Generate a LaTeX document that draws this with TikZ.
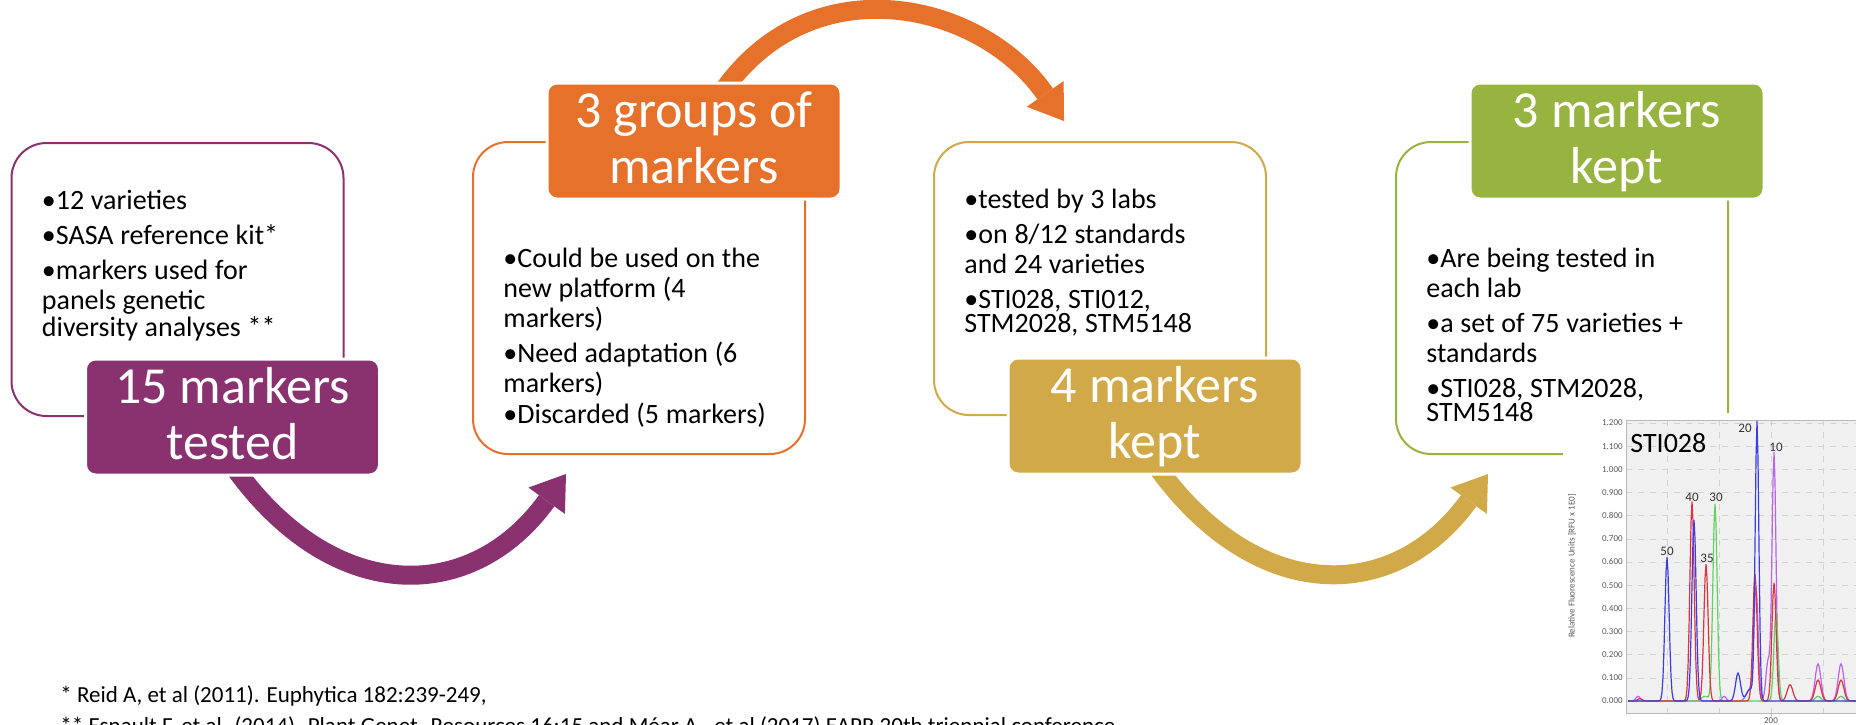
\documentclass[tikz,border=0pt]{standalone}
\usepackage{fontspec}
\setmainfont{Carlito}
\usepackage{tikz}
\usetikzlibrary{arrows.meta}
\usetikzlibrary{backgrounds}
\definecolor{plum}{HTML}{8A3270}
\definecolor{tangerine}{HTML}{E5712B}
\definecolor{ochre}{HTML}{D1A948}
\definecolor{moss}{HTML}{96B43F}
\definecolor{trblue}{RGB}{60,60,225}
\definecolor{trred}{RGB}{222,50,62}
\definecolor{trgreen}{RGB}{95,210,95}
\definecolor{trviolet}{RGB}{185,100,230}
\newcommand{\lstfmt}{\fontsize{14}{15}\selectfont\setlength{\parskip}{2.5pt}}
\newcommand{\bul}[1]{\par\hangindent=7pt\hangafter=1\noindent\hbox to 7pt{\textbullet\hss}#1}
\newcommand{\twoline}[2]{\rule{0pt}{21.5pt}#1\\#2\rule[-7pt]{0pt}{7pt}}

\begin{document}
\begin{tikzpicture}[x=0.5pt,y=-0.5pt,declare function={pk(\p,\m,\h,\s)=\h*exp(-min(((\p-\m)/\s)^2,9));}]
  \tikzstyle{every node}=[inner sep=0pt]
  \tikzstyle{panel}=[draw,line width=1pt,rounded corners=17.5pt,minimum width=166pt]
  \tikzstyle{headbox}=[draw=white,line width=1.5pt,rounded corners=5pt,minimum width=147pt,minimum height=58pt,text=white,align=center,font=\fontsize{26}{28}\selectfont]
  \tikzstyle{bullets}=[anchor=north west,text width=135pt]
  \tikzstyle{bigarrow}=[line width=9.5pt,-{Triangle[width=22.5pt,length=16.5pt,line width=0pt]}]
  \tikzstyle{chartgrid}=[gray!35,dashed,line width=0.3pt]
  \tikzstyle{ticklabel}=[font=\fontsize{4.5}{5}\selectfont,text=gray!70!black]
  \tikzstyle{peaklabel}=[font=\fontsize{6.5}{7}\selectfont,text=black!80]
  \tikzstyle{note}=[anchor=base west,font=\fontsize{11.5}{13}\selectfont]

  \path[use as bounding box] (0,0) rectangle (1856,724);

  \node[panel,draw=plum,minimum height=136.5pt]      (p1) at (177.5,279.5) {};
  \node[panel,draw=tangerine,minimum height=156pt]   (p2) at (639,298)     {};
  \node[panel,draw=ochre,minimum height=136.5pt]     (p3) at (1100,278.5)  {};
  \node[panel,draw=moss,minimum height=156pt]        (p4) at (1562,298)    {};

  \node[headbox,fill=plum,xshift=27.5pt]      (h1) at (p1.south) {\twoline{15 markers}{tested}};
  \node[headbox,fill=tangerine,xshift=27.5pt] (h2) at (p2.north) {\twoline{3 groups of}{markers}};
  \node[headbox,fill=ochre,xshift=27.5pt]     (h3) at (p3.south) {\twoline{4 markers}{kept}};
  \node[headbox,fill=moss,xshift=27.5pt]      (h4) at (p4.north) {\twoline{3 markers}{kept}};

  \begin{scope}[on background layer]
    \fill[white] (0,0) rectangle (1856,724);
    \draw[bigarrow,plum] ([xshift=0.5pt,yshift=5pt]h1.south) .. controls +(100,140) and +(-94,130) .. ([xshift=47pt,yshift=-9.5pt]p2.south west);
    \draw[bigarrow,tangerine] ([xshift=15pt,yshift=-4pt]h2.north) .. controls +(89,-125) and +(-83.5,-120) .. ([xshift=65.5pt,yshift=10pt]p3.north west);
    \draw[bigarrow,ochre] ([xshift=0.5pt,yshift=5pt]h3.south) .. controls +(100,140) and +(-94,130) .. ([xshift=46.5pt,yshift=-9.5pt]p4.south west);
  \end{scope}

  \node[bullets,xshift=15.5pt,yshift=-16pt]   (l1) at (p1.north west) {\lstfmt\bul{\rule{0pt}{11pt}12 varieties}\bul{SASA reference kit*}\bul{markers used for\\panels genetic\\diversity analyses **}};
  \node[bullets,xshift=15.5pt,yshift=-45.5pt] (l2) at (p2.north west) {\lstfmt\bul{\rule{0pt}{11pt}Could be used on the\\new platform (4\\markers)}\bul{Need adaptation (6\\markers)}\bul{Discarded (5 markers)}};
  \node[bullets,xshift=15.5pt,yshift=-16pt]   (l3) at (p3.north west) {\lstfmt\bul{\rule{0pt}{11pt}tested by 3 labs}\bul{on 8/12 standards\\and 24 varieties}\bul{STI028, STI012,\\STM2028, STM5148}};
  \node[bullets,xshift=15.5pt,yshift=-45.5pt] (l4) at (p4.north west) {\lstfmt\bul{\rule{0pt}{11pt}Are being tested in\\each lab}\bul{a set of 75 varieties +\\standards}\bul{STI028, STM2028,\\STM5148}};

  \fill[white] (1563,413) rectangle (1856,724);
  \fill[gray!12] (1626,420) rectangle (1856,713);
  \foreach \v [count=\k from 0] in {0.000,0.100,0.200,0.300,0.400,0.500,0.600,0.700,0.800,0.900,1.000,1.100,1.200}{
    \draw[chartgrid] (1626,{701-23.17*\k}) -- (1856,{701-23.17*\k});
    \node[ticklabel,anchor=east] (y\k) at (1623,{701-23.17*\k}) {\v};
  }
  \foreach \u in {1667,1719,1771,1823} \draw[chartgrid] (\u,420) -- (\u,713);
  \draw[gray!55,line width=0.4pt] (1626,420) rectangle (1860,713);
  \draw[gray!55,line width=0.4pt] (1771,713) -- (1771,716);
  \node[ticklabel] (xt) at (1771,721) {200};
  \node[ticklabel,rotate=90] (ylab) at (1572,566) {Relative Fluorescence Units [RFU x 1E0]};

  \draw[trviolet,line width=0.6pt] plot[domain=1628:1856,samples=229] (\x,{701-232*(pk(\x,1638,0.02,3)+pk(\x,1724,0.02,3)+pk(\x,1750,0.05,5)+pk(\x,1756,0.48,3)+pk(\x,1768,0.17,3)+pk(\x,1774,1.07,2.8)+pk(\x,1818,0.16,4)+pk(\x,1841,0.16,4))});
  \draw[trgreen,line width=0.6pt] plot[domain=1628:1856,samples=229] (\x,{701-232*(pk(\x,1705,0.02,5)+pk(\x,1715,0.85,3)+pk(\x,1776,0.38,3)+pk(\x,1818,0.02,4)+pk(\x,1841,0.02,4))});
  \draw[trred,line width=0.6pt] plot[domain=1628:1856,samples=229] (\x,{701-232*(pk(\x,1640,0.01,3)+pk(\x,1692,0.86,3)+pk(\x,1706,0.59,3)+pk(\x,1755,0.55,3)+pk(\x,1774,0.51,3)+pk(\x,1790,0.07,4)+pk(\x,1818,0.09,4)+pk(\x,1841,0.09,4))});
  \draw[trblue,line width=0.6pt] plot[domain=1628:1856,samples=229] (\x,{701-232*(pk(\x,1667,0.62,3)+pk(\x,1694,0.78,3)+pk(\x,1738,0.12,3.5)+pk(\x,1750,0.05,5)+pk(\x,1757,1.20,2.6))});

  \node[anchor=base west,font=\fontsize{14}{15}\selectfont] (sti) at (1630,452) {STI028};
  \node[peaklabel] (q50) at (1667,551) {50};
  \node[peaklabel] (q40) at (1692,497) {40};
  \node[peaklabel] (q30) at (1716,497) {30};
  \node[peaklabel] (q35) at (1707,558) {35};
  \node[peaklabel] (q20) at (1745,428) {20};
  \node[peaklabel] (q10) at (1776,447) {10};

  \node[note] (f1) at (60,702) {* Reid A, et al (2011). Euphytica 182:239-249,};
  \node[note] (f2) at ([yshift=-15.5pt]f1.base west) {** Esnault F, et al. (2014). Plant Genet. Resources 16:15 and Méar A., et al (2017) EAPR 20th triennial conference};
\end{tikzpicture}
\end{document}
